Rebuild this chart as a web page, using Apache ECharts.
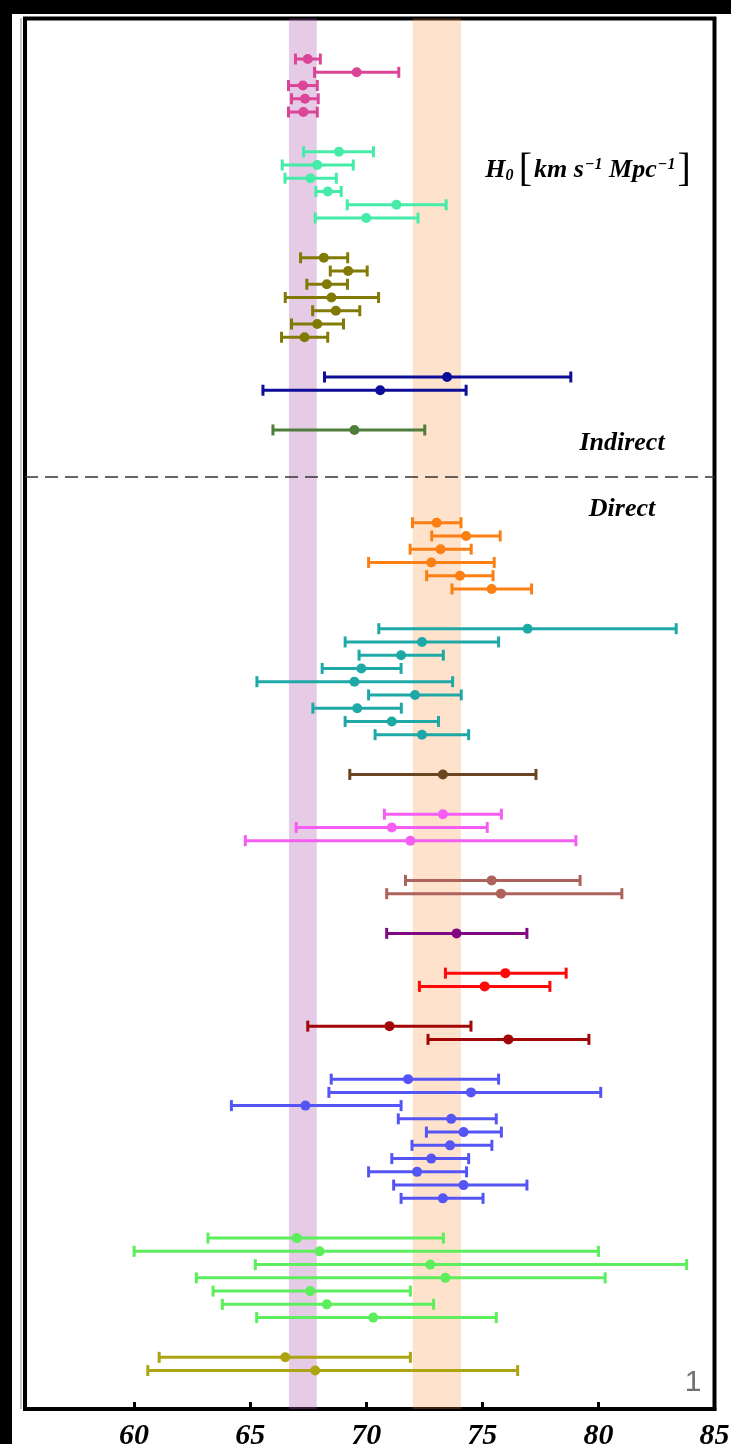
<!DOCTYPE html>
<html>
<head>
<meta charset="utf-8">
<script src="https://cdn.jsdelivr.net/npm/echarts@6/dist/echarts.min.js"></script>
<style>
  html, body { margin: 0; padding: 0; background: #ffffff; }
  #chart { position: absolute; left: 0; top: 0; width: 731px; height: 1444px; }
  .blk { position: absolute; background: #000; }
</style>
</head>
<body>
<div id="chart"></div>
<div class="blk" style="left:0;top:0;width:12px;height:1444px;"></div>
<div class="blk" style="left:0;top:0;width:731px;height:14px;"></div>
<script>
// ---- data: each row is [central value, lower end, upper end] of H0 (km/s/Mpc) ----
const xTicks = [60, 65, 70, 75, 80, 85];
const planckBand = [67.27, 0.60];   // centre, half width
const shoesBand  = [73.04, 1.04];

// Indirect
const indirectPink = [
  [67.48, 66.95, 68.02], [69.59, 67.77, 71.40], [67.27, 66.65, 67.89],
  [67.36, 66.78, 67.93], [67.29, 66.65, 67.89]
];
const indirectMint = [
  [68.82, 67.30, 70.31], [67.89, 66.38, 69.44], [67.60, 66.50, 68.71],
  [68.34, 67.83, 68.92], [71.30, 69.18, 73.44], [70.00, 67.80, 72.23]
];
const indirectOlive = [
  [68.17, 67.17, 69.20], [69.22, 68.45, 70.04], [68.30, 67.44, 69.19],
  [68.50, 66.51, 70.53], [68.69, 67.69, 69.72], [67.89, 66.78, 69.02],
  [67.34, 66.35, 68.34]
];
const indirectNavy = [[73.48, 68.20, 78.81], [70.60, 65.55, 74.30]];
const indirectGreen = [[69.49, 65.98, 72.52]];

// Direct
const directOrange = [
  [73.03, 71.99, 74.08], [74.30, 72.82, 75.77], [73.20, 71.89, 74.52],
  [72.80, 70.10, 75.51], [74.04, 72.60, 75.46], [75.40, 73.69, 77.12]
];
const directTeal = [
  [76.95, 70.54, 83.35], [72.40, 69.09, 75.70], [71.50, 69.69, 73.32],
  [69.79, 68.10, 71.50], [69.49, 65.29, 73.72], [72.10, 70.10, 74.09],
  [69.61, 67.70, 71.51], [71.10, 69.09, 73.11], [72.40, 70.38, 74.41]
];
const directBrown = [[73.30, 69.29, 77.31]];
const directMagenta = [[73.30, 70.78, 75.82], [71.10, 66.98, 75.21], [71.90, 64.79, 79.03]];
const directRosy = [[75.40, 71.69, 79.21], [75.80, 70.88, 81.01]];
const directPurple = [[73.89, 70.88, 76.92]];
const directRed = [[75.99, 73.41, 78.61], [75.10, 72.29, 77.91]];
const directDarkRed = [[71.00, 67.48, 74.51], [76.12, 72.66, 79.59]];
const directBlue = [
  [71.80, 68.49, 75.70], [74.51, 68.39, 80.10], [67.38, 64.19, 71.50],
  [73.66, 71.38, 75.60], [74.19, 72.59, 75.82], [73.61, 71.97, 75.41],
  [72.80, 71.10, 74.41], [72.19, 70.10, 74.32], [74.19, 71.18, 76.92],
  [73.30, 71.50, 75.03]
];
const directLime = [
  [67.01, 63.18, 73.32], [67.99, 60.00, 80.00], [72.76, 65.22, 83.80],
  [73.41, 62.68, 80.29], [67.59, 63.40, 71.90], [68.30, 63.80, 72.90],
  [70.30, 65.28, 75.60]
];
const directOlive = [[66.51, 61.08, 71.90], [67.80, 60.59, 76.52]];

// ---- group list with colours ----
const indirectGroups = [
  { rows: indirectPink,  color: '#db4598' },
  { rows: indirectMint,  color: '#45eca8' },
  { rows: indirectOlive, color: '#827a06' },
  { rows: indirectNavy,  color: '#0d0d98' },
  { rows: indirectGreen, color: '#4e7d3c' }
];
const directGroups = [
  { rows: directOrange,  color: '#fb7f12' },
  { rows: directTeal,    color: '#1ea8a6' },
  { rows: directBrown,   color: '#6b4522' },
  { rows: directMagenta, color: '#f55ef2' },
  { rows: directRosy,    color: '#ae625c' },
  { rows: directPurple,  color: '#7f0880' },
  { rows: directRed,     color: '#fc0a0a' },
  { rows: directDarkRed, color: '#a20606' },
  { rows: directBlue,    color: '#5555f5' },
  { rows: directLime,    color: '#5cee5c' },
  { rows: directOlive,   color: '#aca511' }
];

// ---- row layout: header row + data rows + blank row per group ----
const series = [];
let row = 0;
let breakRow = 0;
function addGroups(groups) {
  groups.forEach(g => {
    row += 1; // header row (label)
    const data = g.rows.map(r => { const item = [r[0], r[1], r[2], row]; row += 1; return item; });
    row += 1; // blank row
    series.push({
      type: 'custom',
      z: 2,
      itemStyle: { color: g.color },
      encode: { x: [0, 1, 2], y: 3 },
      renderItem: function (params, api) {
        const y = api.value(3);
        const c = api.coord([api.value(0), y]);
        const lo = api.coord([api.value(1), y]);
        const hi = api.coord([api.value(2), y]);
        const col = api.visual('color');
        return {
          type: 'group',
          children: [
            { type: 'line', shape: { x1: lo[0], y1: lo[1], x2: hi[0], y2: hi[1] },
              style: { stroke: col, lineWidth: 3 } },
            { type: 'rect', shape: { x: lo[0] - 1.5, y: lo[1] - 5.5, width: 3, height: 11 },
              style: { fill: col } },
            { type: 'rect', shape: { x: hi[0] - 1.5, y: hi[1] - 5.5, width: 3, height: 11 },
              style: { fill: col } },
            { type: 'circle', shape: { cx: c[0], cy: c[1], r: 5 },
              style: { fill: col } }
          ]
        };
      },
      data: data
    });
  });
}
addGroups(indirectGroups);
const indirectEnd = row - 1;
row += 4; // section gap
const directStart = row;
breakRow = (indirectEnd + directStart) / 2;
addGroups(directGroups);
const lastRow = row - 2;

// bands and divider on top
series.push({
  type: 'scatter',
  z: 10,
  data: [],
  silent: true,
  markArea: {
    silent: true,
    itemStyle: { opacity: 1 },
    data: [
      [{ xAxis: planckBand[0] - planckBand[1], itemStyle: { color: 'rgba(168,84,168,0.3)' } },
       { xAxis: planckBand[0] + planckBand[1] }],
      [{ xAxis: shoesBand[0] - shoesBand[1], itemStyle: { color: 'rgba(250,140,50,0.25)' } },
       { xAxis: shoesBand[0] + shoesBand[1] }]
    ]
  },
  markLine: {
    silent: true,
    symbol: ['none', 'none'],
    label: { show: false },
    lineStyle: { color: '#333333', width: 1.5, type: [13, 7] },
    data: [{ yAxis: breakRow }]
  }
});

const chart = echarts.init(document.getElementById('chart'), null, { renderer: 'canvas' });
const serif = 'Liberation Serif, Times New Roman, serif';
chart.setOption({
  animation: false,
  backgroundColor: '#ffffff',
  grid: { left: 25, right: 16.5, top: 18.5, bottom: 35, containLabel: false, outerBoundsMode: 'none',
          show: true, borderColor: '#000', borderWidth: 4, backgroundColor: 'transparent' },
  xAxis: {
    type: 'value',
    min: 55.3,
    max: 85,
    axisLine: { show: true, onZero: false, lineStyle: { color: '#000', width: 4 } },
    axisTick: { show: true, inside: true, length: 7, lineStyle: { color: '#000', width: 3 }, customValues: xTicks },
    axisLabel: { customValues: xTicks, margin: 12, color: '#000', fontFamily: serif, fontStyle: 'italic', fontWeight: 'bold', fontSize: 30 },
    splitLine: { show: false }
  },
  yAxis: {
    type: 'value',
    inverse: true,
    min: -2.06,
    max: lastRow + 2.9,
    show: false
  },
  graphic: [
    { type: 'rect', left: 20, top: 18, shape: { width: 2, height: 1391 }, style: { fill: '#c8c8c8' }, z: 100 },
    {
      type: 'text', x: 589, y: 170, z: 100,
      style: {
        text: '{h|H}{sub|0} {br|[}{t|km s}{sup|−1}{t| Mpc}{sup|−1}{br|]}',
        align: 'center', verticalAlign: 'middle',
        rich: {
          h:   { fontFamily: serif, fontStyle: 'italic', fontWeight: 'bold', fontSize: 26, fill: '#000', lineHeight: 36, verticalAlign: 'middle' },
          t:   { fontFamily: serif, fontStyle: 'italic', fontWeight: 'bold', fontSize: 26, fill: '#000', lineHeight: 36, verticalAlign: 'middle' },
          sub: { fontFamily: serif, fontStyle: 'italic', fontWeight: 'bold', fontSize: 16, fill: '#000', lineHeight: 36, verticalAlign: 'bottom', padding: [0, 0, 4, 0] },
          sup: { fontFamily: serif, fontStyle: 'italic', fontWeight: 'bold', fontSize: 16, fill: '#000', lineHeight: 36, verticalAlign: 'top', padding: [5, 0, 0, 1] },
          br:  { fontFamily: serif, fontSize: 40, fill: '#000', lineHeight: 36, verticalAlign: 'middle', padding: [0, 2, 0, 2] }
        }
      }
    },
    { type: 'text', x: 622, y: 443, z: 100,
      style: { text: 'Indirect', align: 'center', verticalAlign: 'middle', fontFamily: serif, fontStyle: 'italic', fontWeight: 'bold', fontSize: 26, fill: '#000' } },
    { type: 'text', x: 622, y: 509, z: 100,
      style: { text: 'Direct', align: 'center', verticalAlign: 'middle', fontFamily: serif, fontStyle: 'italic', fontWeight: 'bold', fontSize: 26, fill: '#000' } },
    { type: 'text', x: 693, y: 1383, z: 100,
      style: { text: '1', align: 'center', verticalAlign: 'middle', fontFamily: 'Liberation Sans, Arial, sans-serif', fontSize: 30, fill: '#707070' } }
  ],
  series: series
});
</script>
</body>
</html>
